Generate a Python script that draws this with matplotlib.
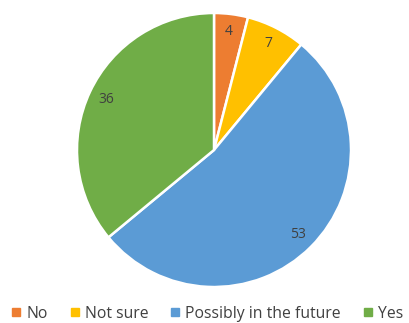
import matplotlib.pyplot as plt
from matplotlib.lines import Line2D

labels = ['No', 'Not sure', 'Possibly in the future', 'Yes']
counts = [4, 7, 53, 36]
colors = ['#ED7D31', '#FFC000', '#5B9BD5', '#70AD47']

plt.rcParams['font.family'] = ['Open Sans', 'DejaVu Sans']

fig = plt.figure(figsize=(4.09, 3.23), dpi=100)
ax = fig.add_axes([(214 - 137) / 409, 1 - (150 + 137) / 323, 274 / 409, 274 / 323])

total = sum(counts)
ax.pie(counts, colors=colors, startangle=90, counterclock=False,
       wedgeprops=dict(edgecolor='white', linewidth=1.8),
       autopct=lambda p: f'{round(p * total / 100)}', pctdistance=0.87,
       textprops=dict(color='#404040', fontsize=10))
ax.set_xlim(-1, 1)
ax.set_ylim(-1, 1)
ax.set_aspect('equal')

handles = [Line2D([], [], marker='s', linestyle='none', markersize=5.5,
                  markerfacecolor=c, markeredgecolor=c) for c in colors]
fig.legend(handles, labels, loc='center', bbox_to_anchor=(0.5 + 3 / 409, 1 - 313.5 / 323),
           ncol=4, frameon=False, fontsize=11.3, handlelength=0.6,
           handletextpad=0.35, columnspacing=1.4, labelcolor='#404040',
           borderpad=0, borderaxespad=0)

fig.savefig('out.png', dpi=100)
